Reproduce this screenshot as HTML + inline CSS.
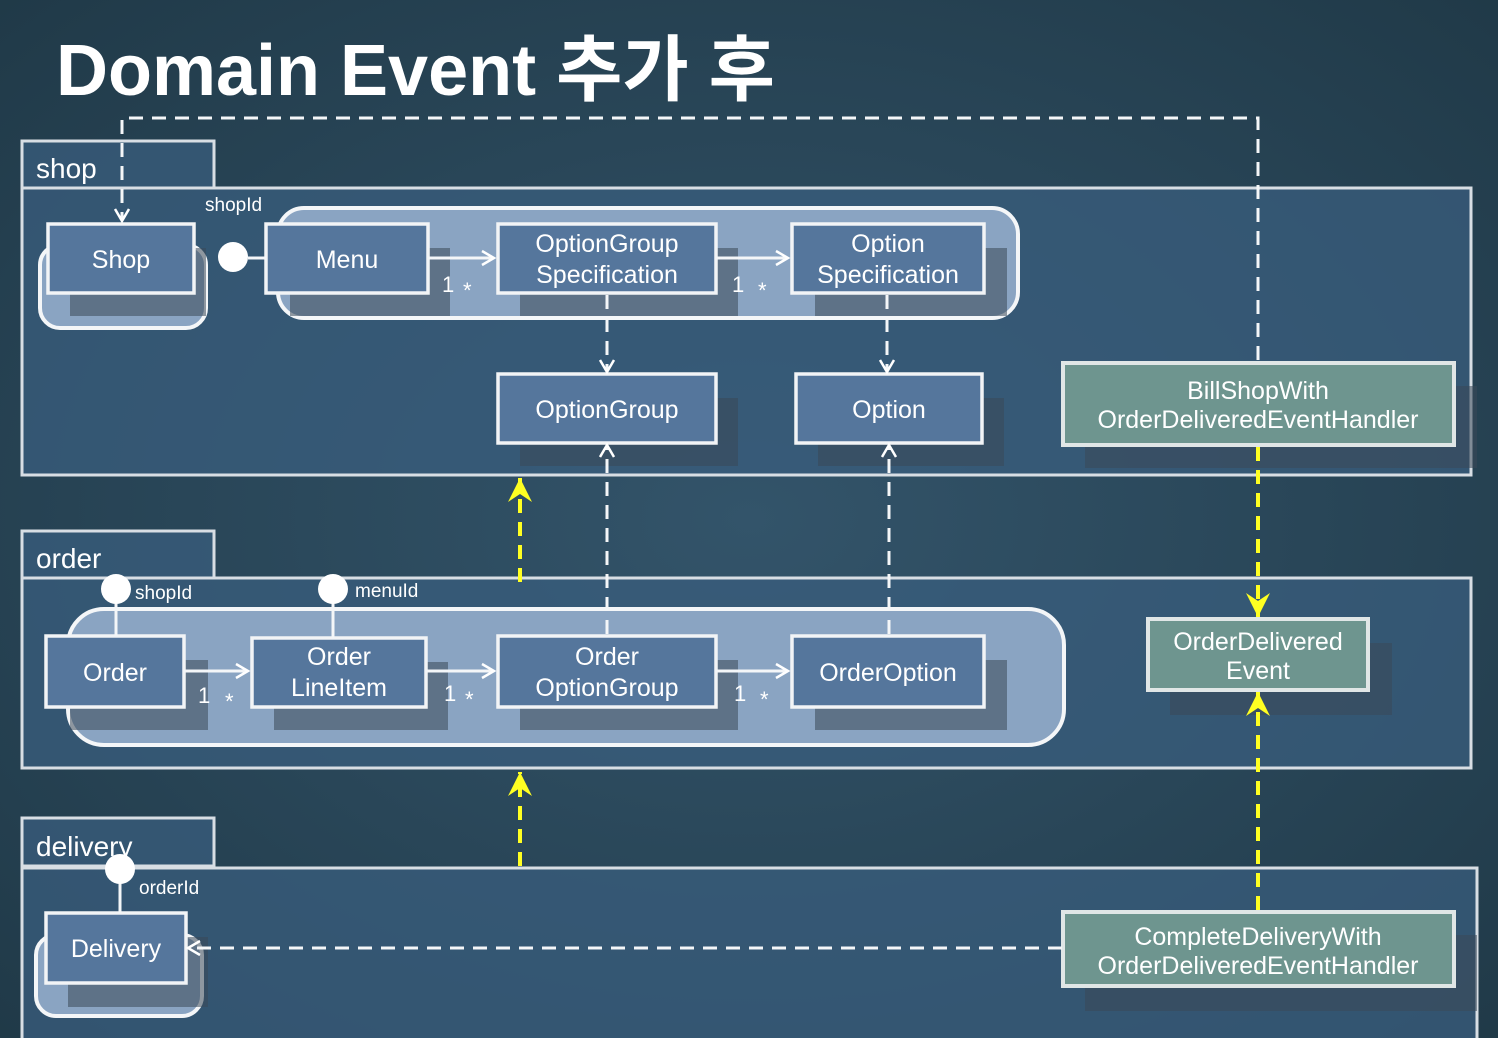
<!DOCTYPE html>
<html><head><meta charset="utf-8"><style>
html,body{margin:0;padding:0;width:1498px;height:1038px;overflow:hidden;background:#2a4656;}
svg{display:block}
text{font-family:"Liberation Sans","Noto Sans CJK KR",sans-serif;fill:#fff;}
</style></head><body>
<svg width="1498" height="1038" viewBox="0 0 1498 1038" xmlns="http://www.w3.org/2000/svg">
<defs>
<radialGradient id="bg" cx="50%" cy="50%" r="75%">
<stop offset="0" stop-color="#33546a"/><stop offset="1" stop-color="#1f3846"/>
</radialGradient>
<marker id="aw" markerWidth="20" markerHeight="20" refX="16" refY="10" orient="auto" markerUnits="userSpaceOnUse"><path d="M4,3 L16,10 L4,17" fill="none" stroke="#fff" stroke-width="2.5"/></marker>
<marker id="ay" markerWidth="30" markerHeight="30" refX="26" refY="15" orient="auto" markerUnits="userSpaceOnUse"><path d="M2,3 L26,15 L2,27 L10,15 Z" fill="#ffff22"/></marker>
</defs>
<rect width="1498" height="1038" fill="url(#bg)"/>
<text x="56" y="95" font-size="72" font-weight="bold">Domain Event 추가 후</text>

<!-- packages -->
<g stroke="#d8dee4" stroke-width="3" fill="#3a5d7d" fill-opacity="0.75">
<rect x="22" y="141" width="192" height="47"/>
<rect x="22" y="188" width="1449" height="287"/>
<rect x="22" y="531" width="192" height="47"/>
<rect x="22" y="578" width="1449" height="190"/>
<rect x="22" y="818" width="192" height="48"/>
<rect x="22" y="868" width="1455" height="180"/>
</g>
<text x="36" y="178" font-size="28">shop</text>
<text x="36" y="568" font-size="28">order</text>
<text x="36" y="856" font-size="28">delivery</text>

<!-- groups -->
<g stroke="#f4f6f8" stroke-width="4" fill="#8aa4c2">
<rect x="40" y="245" width="166" height="83" rx="20"/>
<rect x="278" y="208" width="740" height="110" rx="26"/>
<rect x="68" y="609" width="996" height="136" rx="36"/>
<rect x="36" y="935" width="166" height="81" rx="20"/>
</g>

<!-- shadows -->
<g fill="#3a4858" opacity="0.55">
<rect x="70" y="248" width="136" height="68"/>
<rect x="290" y="248" width="160" height="68"/>
<rect x="520" y="248" width="218" height="68"/>
<rect x="815" y="248" width="192" height="68"/>
<rect x="520" y="398" width="218" height="68"/>
<rect x="818" y="398" width="186" height="68"/>
<rect x="1085" y="386" width="392" height="82"/>
<rect x="70" y="660" width="138" height="70"/>
<rect x="274" y="662" width="174" height="68"/>
<rect x="520" y="660" width="218" height="70"/>
<rect x="815" y="660" width="192" height="70"/>
<rect x="1170" y="643" width="222" height="72"/>
<rect x="68" y="937" width="140" height="70"/>
<rect x="1085" y="935" width="392" height="76"/>
</g>

<!-- nodes -->
<g stroke="#f2f4f6" stroke-width="3.5" fill="#55769c">
<rect x="48" y="224" width="146" height="69"/>
<rect x="266" y="224" width="162" height="69"/>
<rect x="498" y="224" width="218" height="69"/>
<rect x="792" y="224" width="192" height="69"/>
<rect x="498" y="374" width="218" height="69"/>
<rect x="796" y="374" width="186" height="69"/>
<rect x="46" y="636" width="138" height="71"/>
<rect x="252" y="638" width="174" height="69"/>
<rect x="498" y="636" width="218" height="71"/>
<rect x="792" y="636" width="192" height="71"/>
<rect x="46" y="913" width="140" height="70"/>
</g>
<g stroke="#e0e6e6" stroke-width="4" fill="#6e958f">
<rect x="1063" y="363" width="391" height="82"/>
<rect x="1148" y="619" width="220" height="71"/>
<rect x="1063" y="912" width="391" height="74"/>
</g>

<g font-size="25" text-anchor="middle">
<text x="121" y="268">Shop</text>
<text x="347" y="268">Menu</text>
<text x="607" y="252">OptionGroup</text>
<text x="607" y="283">Specification</text>
<text x="888" y="252">Option</text>
<text x="888" y="283">Specification</text>
<text x="607" y="418">OptionGroup</text>
<text x="889" y="418">Option</text>
<text x="1258" y="399">BillShopWith</text>
<text x="1258" y="428">OrderDeliveredEventHandler</text>
<text x="115" y="681">Order</text>
<text x="339" y="665">Order</text>
<text x="339" y="696">LineItem</text>
<text x="607" y="665">Order</text>
<text x="607" y="696">OptionGroup</text>
<text x="888" y="681">OrderOption</text>
<text x="1258" y="650">OrderDelivered</text>
<text x="1258" y="679">Event</text>
<text x="116" y="957">Delivery</text>
<text x="1258" y="945">CompleteDeliveryWith</text>
<text x="1258" y="974">OrderDeliveredEventHandler</text>
</g>
<g font-size="19">
<text x="205" y="211">shopId</text>
<text x="135" y="599">shopId</text>
<text x="355" y="597">menuId</text>
<text x="139" y="894">orderId</text>
</g>

<!-- associations -->
<g stroke="#f4f6f8" stroke-width="3" fill="none">
<line x1="428" y1="258" x2="494" y2="258" marker-end="url(#aw)"/>
<line x1="716" y1="258" x2="788" y2="258" marker-end="url(#aw)"/>
<line x1="184" y1="671" x2="248" y2="671" marker-end="url(#aw)"/>
<line x1="426" y1="671" x2="494" y2="671" marker-end="url(#aw)"/>
<line x1="716" y1="671" x2="788" y2="671" marker-end="url(#aw)"/>
<line x1="248" y1="258" x2="266" y2="258"/>
<line x1="116" y1="589" x2="116" y2="636"/>
<line x1="333" y1="589" x2="333" y2="638"/>
<line x1="120" y1="869" x2="120" y2="913"/>
</g>
<g fill="#fff">
<circle cx="233" cy="257" r="15"/>
<circle cx="116" cy="589" r="15"/>
<circle cx="333" cy="589" r="15"/>
<circle cx="120" cy="869" r="15"/>
</g>
<g font-size="22" fill="#c8d2dc">
<text x="442" y="292" fill="#a8b4c0">1</text><text x="463" y="298">*</text>
<text x="732" y="292" fill="#a8b4c0">1</text><text x="758" y="298">*</text>
<text x="198" y="703" fill="#a8b4c0">1</text><text x="225" y="709">*</text>
<text x="444" y="701" fill="#a8b4c0">1</text><text x="465" y="707">*</text>
<text x="734" y="701" fill="#a8b4c0">1</text><text x="760" y="707">*</text>
</g>

<!-- dashed dependencies -->
<g stroke="#f4f6f8" stroke-width="3" fill="none" stroke-dasharray="14,9">
<polyline points="1258,360 1258,118 122,118 122,221" marker-end="url(#aw)"/>
<line x1="607" y1="295" x2="607" y2="372" marker-end="url(#aw)"/>
<line x1="887" y1="295" x2="887" y2="372" marker-end="url(#aw)"/>
<line x1="607" y1="634" x2="607" y2="445" marker-end="url(#aw)"/>
<line x1="889" y1="634" x2="889" y2="445" marker-end="url(#aw)"/>
<line x1="1062" y1="948" x2="188" y2="948" marker-end="url(#aw)"/>
</g>
<g stroke="#ffff22" stroke-width="4" fill="none" stroke-dasharray="14,9">
<line x1="520" y1="582" x2="520" y2="478" marker-end="url(#ay)"/>
<line x1="520" y1="866" x2="520" y2="772" marker-end="url(#ay)"/>
<line x1="1258" y1="447" x2="1258" y2="617" marker-end="url(#ay)"/>
<line x1="1258" y1="910" x2="1258" y2="692" marker-end="url(#ay)"/>
</g>
</svg>
</body></html>
